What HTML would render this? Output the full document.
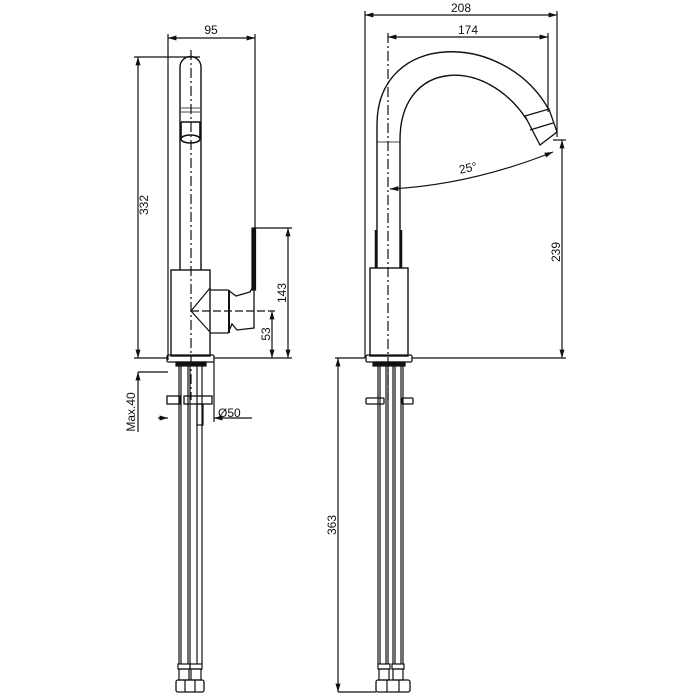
<!DOCTYPE html>
<html><head><meta charset="utf-8"><style>
html,body{margin:0;padding:0;background:#fff;width:700px;height:700px;overflow:hidden}
text{font-family:"Liberation Sans",sans-serif;font-size:12px;fill:#111}
</style></head><body>
<svg width="700" height="700" viewBox="0 0 700 700" xmlns="http://www.w3.org/2000/svg">
<defs>
<marker id="a" viewBox="0 0 10 10" refX="10" refY="5" markerWidth="7" markerHeight="7" orient="auto-start-reverse"><path d="M0,2 L10,5 L0,8 z" fill="#111"/></marker>
</defs>
<g stroke="#111" fill="none" stroke-width="1.2">
<!-- LEFT VIEW -->
<line x1="168" y1="38" x2="255" y2="38" marker-start="url(#a)" marker-end="url(#a)"/>
<line x1="168" y1="34" x2="168" y2="360"/>
<line x1="255" y1="34" x2="255" y2="228"/>
<line x1="138" y1="57" x2="138" y2="358" marker-start="url(#a)" marker-end="url(#a)"/>
<line x1="134" y1="57" x2="200" y2="57"/>
<line x1="134" y1="358" x2="168" y2="358"/>
<line x1="191" y1="50" x2="191" y2="400" stroke-dasharray="10,3,2,3"/>
<path d="M180,270 L180,67 A10.5,10.5 0 0 1 201,67 L201,270" stroke-width="1.4"/>
<path d="M181,108 L200,108 M181,112 L200,112" stroke-width="0.8"/>
<path d="M181,122 L200,122 L200,138 M181,122 L181,138" stroke-width="1.6"/>
<ellipse cx="190.5" cy="139" rx="9.5" ry="4" stroke-width="1.6"/>
<rect x="171" y="270" width="39" height="86" stroke-width="1.4"/>
<path d="M210,288 L191,311 L210,332" stroke-width="1.2"/>
<path d="M210,290 L228,290 L236,296 L250,292 L254,285 L254,328 L237,330 L232,324 L228,333 L210,333" stroke-width="1.3"/>
<line x1="229" y1="290" x2="229" y2="333" stroke-width="2"/>
<rect x="252" y="228" width="3.5" height="62" fill="#111"/>
<line x1="255" y1="228" x2="292" y2="228"/>
<line x1="214" y1="358" x2="292" y2="358"/>
<line x1="288" y1="228" x2="288" y2="358" marker-start="url(#a)" marker-end="url(#a)"/>
<line x1="191" y1="311" x2="275" y2="311" stroke-dasharray="8,3"/>
<line x1="272" y1="311" x2="272" y2="358" marker-start="url(#a)" marker-end="url(#a)"/>
<rect x="167" y="355" width="47" height="7" rx="1.5" stroke-width="1.3"/>
<rect x="176" y="362" width="30" height="4" fill="#111"/>
<line x1="179" y1="366" x2="179" y2="664"/><line x1="181" y1="366" x2="181" y2="664"/>
<line x1="188" y1="366" x2="188" y2="664"/><line x1="190" y1="366" x2="190" y2="664"/>
<line x1="197" y1="366" x2="197" y2="664"/><line x1="202" y1="366" x2="202" y2="664"/>
<rect x="167" y="396" width="13" height="8" stroke-width="1.3"/>
<rect x="184" y="396" width="28" height="8" stroke-width="1.3"/>
<rect x="197" y="404" width="6" height="21" stroke-width="1.2"/>
<line x1="138" y1="372" x2="168" y2="372"/>
<line x1="138" y1="372" x2="138" y2="432" marker-start="url(#a)"/>
<line x1="158" y1="418" x2="168" y2="418" marker-end="url(#a)"/>
<line x1="214" y1="418" x2="252" y2="418" marker-start="url(#a)"/>
<line x1="214" y1="362" x2="214" y2="422"/>
<rect x="178" y="664" width="12" height="5"/><rect x="190" y="664" width="12" height="5"/>
<rect x="179" y="669" width="10" height="11"/><rect x="191" y="669" width="10" height="11"/>
<rect x="176" y="680" width="28" height="12" rx="2" stroke-width="1.3"/>
<line x1="185" y1="680" x2="185" y2="692"/><line x1="195" y1="680" x2="195" y2="692"/>

<!-- RIGHT VIEW -->
<line x1="365" y1="15" x2="557" y2="15" marker-start="url(#a)" marker-end="url(#a)"/>
<line x1="388" y1="37" x2="548" y2="37" marker-start="url(#a)" marker-end="url(#a)"/>
<line x1="365" y1="11" x2="365" y2="358"/>
<line x1="557" y1="11" x2="557" y2="137"/>
<line x1="548" y1="33" x2="548" y2="112"/>
<line x1="388" y1="33" x2="388" y2="400" stroke-dasharray="10,3,2,3"/>
<path d="M377,268 L377,125 C377,30 505,30 549,110" stroke-width="1.4"/>
<path d="M400,268 L400,140 C400,60 485,55 527,120" stroke-width="1.4"/>
<path d="M525,116 L549,109 L557,132 L540,145 Z" stroke-width="1.3"/>
<line x1="530" y1="130" x2="553" y2="123" stroke-width="1.3"/>
<line x1="377" y1="142" x2="400" y2="142" stroke-width="0.8"/>
<line x1="376" y1="230" x2="376" y2="268" stroke-width="2.5"/>
<line x1="401" y1="230" x2="401" y2="268" stroke-width="2.5"/>
<path d="M390,189 Q470,185 553,152" marker-start="url(#a)" marker-end="url(#a)"/>
<rect x="370" y="268" width="38" height="88" stroke-width="1.4"/>
<rect x="366" y="355" width="46" height="7" rx="1.5" stroke-width="1.3"/>
<rect x="373" y="362" width="32" height="4" fill="#111"/>
<line x1="553" y1="140" x2="566" y2="140"/>
<line x1="412" y1="358" x2="566" y2="358"/>
<line x1="562" y1="140" x2="562" y2="358" marker-start="url(#a)" marker-end="url(#a)"/>
<line x1="378" y1="366" x2="378" y2="664"/><line x1="380" y1="366" x2="380" y2="664"/>
<line x1="386" y1="366" x2="386" y2="664"/><line x1="388" y1="366" x2="388" y2="664"/>
<line x1="393" y1="366" x2="393" y2="664"/><line x1="395" y1="366" x2="395" y2="664"/>
<line x1="401" y1="366" x2="401" y2="664"/><line x1="403" y1="366" x2="403" y2="664"/>
<rect x="366" y="398" width="18" height="6" rx="1" stroke-width="1.3"/>
<rect x="402" y="398" width="11" height="6" rx="1" stroke-width="1.3"/>
<line x1="335" y1="358" x2="365" y2="358"/>
<line x1="338" y1="358" x2="338" y2="692" marker-start="url(#a)" marker-end="url(#a)"/>
<line x1="338" y1="692" x2="376" y2="692"/>
<rect x="378" y="664" width="12" height="5"/><rect x="392" y="664" width="12" height="5"/>
<rect x="379" y="669" width="10" height="11"/><rect x="393" y="669" width="10" height="11"/>
<rect x="376" y="680" width="34" height="12" rx="2" stroke-width="1.3"/>
<line x1="387" y1="680" x2="387" y2="692"/><line x1="399" y1="680" x2="399" y2="692"/>
</g>
<text x="211" y="34" text-anchor="middle">95</text>
<text transform="translate(148,205) rotate(-90)" text-anchor="middle">332</text>
<text transform="translate(286,293) rotate(-90)" text-anchor="middle">143</text>
<text transform="translate(270,334) rotate(-90)" text-anchor="middle">53</text>
<text transform="translate(135,412) rotate(-90)" text-anchor="middle">Max.40</text>
<text x="218" y="417">Ø50</text>
<text x="461" y="12" text-anchor="middle">208</text>
<text x="468" y="34" text-anchor="middle">174</text>
<text x="468" y="172" text-anchor="middle" transform="rotate(-12 468 168)">25°</text>
<text transform="translate(560,252) rotate(-90)" text-anchor="middle">239</text>
<text transform="translate(336,525) rotate(-90)" text-anchor="middle">363</text>
</svg>
</body></html>
